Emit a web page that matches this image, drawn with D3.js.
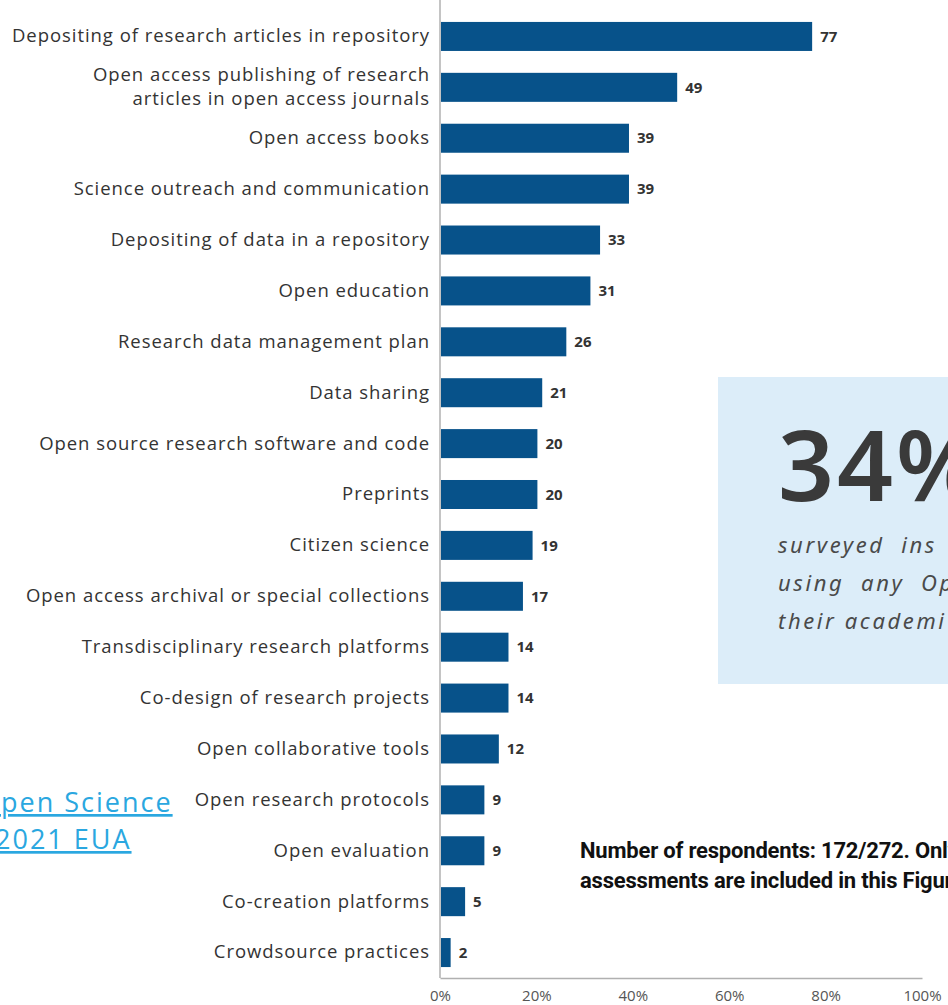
<!DOCTYPE html>
<html>
<head>
<meta charset="utf-8">
<script src="https://cdn.jsdelivr.net/npm/d3@7"></script>
<style>
  body { margin: 0; background: #fff; overflow: hidden; }
  svg { display: block; }
</style>
</head>
<body>
<div id="chart"></div>
<script>
// Chart data
const categories = [
  "Depositing of research articles in repository",
  "Open access publishing of research|articles in open access journals",
  "Open access books",
  "Science outreach and communication",
  "Depositing of data in a repository",
  "Open education",
  "Research data management plan",
  "Data sharing",
  "Open source research software and code",
  "Preprints",
  "Citizen science",
  "Open access archival or special collections",
  "Transdisciplinary research platforms",
  "Co-design of research projects",
  "Open collaborative tools",
  "Open research protocols",
  "Open evaluation",
  "Co-creation platforms",
  "Crowdsource practices"
];
const values = [77, 49, 39, 39, 33, 31, 26, 21, 20, 20, 19, 17, 14, 14, 12, 9, 9, 5, 2];
const tickValues = [0, 20, 40, 60, 80, 100];
const calloutLines = ["surveyed  ins", "using  any  Op", "their academi"];
const noteLines = ["Number of respondents: 172/272. Only", "assessments are included in this Figure."];

const width = 948;
const height = 1005;

const svg = d3
  .select("#chart")
  .append("svg")
  .attr("width", width)
  .attr("height", height);

// Scales
const x = d3.scaleLinear().domain([0, 100]).range([440, 922]);
const y = d3
  .scaleBand()
  .domain(categories)
  .range([11, 978])
  .paddingInner(0.43)
  .paddingOuter(0.215);

// Callout box behind the chart on the right
svg
  .append("rect")
  .attr("x", 718)
  .attr("y", 377)
  .attr("width", 240)
  .attr("height", 307)
  .attr("fill", "#dcedf9");

svg
  .append("text")
  .attr("x", 778)
  .attr("y", 501)
  .style("font-family", "'Noto Sans', sans-serif")
  .style("font-size", "98px")
  .style("font-weight", "600")
  .style("letter-spacing", "3px")
  .style("fill", "#3a3a3a")
  .text("34%");

svg
  .selectAll("text.callout")
  .data(calloutLines)
  .enter()
  .append("text")
  .attr("class", "callout")
  .attr("x", 778)
  .attr("y", (d, i) => 553 + i * 38)
  .style("font-family", "'Noto Sans', sans-serif")
  .style("font-size", "22px")
  .style("font-style", "italic")
  .style("letter-spacing", "2.6px")
  .style("white-space", "pre")
  .style("fill", "#4a4a4a")
  .text((d) => d);

// Left axis (vertical line + category labels)
const yAxis = svg
  .append("g")
  .attr("transform", "translate(440,0)")
  .call(d3.axisLeft(y).tickSize(0).tickPadding(10));
yAxis.select("path.domain").attr("d", "M0,0V978").style("stroke", "#b0b0b0").style("stroke-width", 1.5);
yAxis
  .selectAll("text")
  .style("font-family", "'Open Sans', sans-serif")
  .style("font-size", "18.5px")
  .style("letter-spacing", "0.95px")
  .style("fill", "#333")
  .each(function (d) {
    const parts = d.split("|");
    const t = d3.select(this);
    if (parts.length > 1) {
      t.text(null);
      t.append("tspan").attr("x", -10).attr("dy", "-0.35em").text(parts[0]);
      t.append("tspan").attr("x", -10).attr("dy", "1.3em").text(parts[1]);
    }
  });

// Bottom axis
const xAxis = svg
  .append("g")
  .attr("transform", "translate(0,978)")
  .call(
    d3
      .axisBottom(x)
      .tickValues(tickValues)
      .tickSize(0)
      .tickPadding(12)
      .tickFormat((d) => d + "%")
  );
xAxis.select("path.domain").style("stroke", "#b0b0b0").style("stroke-width", 1.5);
xAxis
  .selectAll("text")
  .style("font-family", "'Open Sans', sans-serif")
  .style("font-size", "15px")
  .style("fill", "#555");

// Bars
svg
  .selectAll("rect.bar")
  .data(values)
  .enter()
  .append("rect")
  .attr("class", "bar")
  .attr("x", x(0) + 1)
  .attr("y", (d, i) => y(categories[i]))
  .attr("width", (d) => x(d) - x(0))
  .attr("height", y.bandwidth())
  .attr("fill", "#07528a");

// Value labels
svg
  .selectAll("text.value")
  .data(values)
  .enter()
  .append("text")
  .attr("class", "value")
  .attr("x", (d) => x(d) + 9)
  .attr("y", (d, i) => y(categories[i]) + y.bandwidth() / 2)
  .attr("dy", "0.35em")
  .style("font-family", "'Open Sans', sans-serif")
  .style("font-size", "15px")
  .style("font-weight", "bold")
  .style("fill", "#333")
  .text((d) => d);

// Link text at the left edge
const link = svg
  .append("g")
  .style("font-family", "'Open Sans', sans-serif")
  .style("font-size", "27px")
  .style("letter-spacing", "2px")
  .style("fill", "#2aa7e0")
  .style("text-decoration", "underline");
link.append("text").attr("x", -22).attr("y", 812).text("Open Science");
link.append("text").attr("x", -5).attr("y", 849).text("2021 EUA");

// Footnote
svg
  .selectAll("text.note")
  .data(noteLines)
  .enter()
  .append("text")
  .attr("class", "note")
  .attr("x", 580)
  .attr("y", (d, i) => 858 + i * 30)
  .style("font-family", "'Roboto', sans-serif")
  .style("font-size", "22px")
  .style("font-weight", "bold")
  .style("letter-spacing", "-0.2px")
  .style("fill", "#111")
  .text((d) => d);
</script>
</body>
</html>
